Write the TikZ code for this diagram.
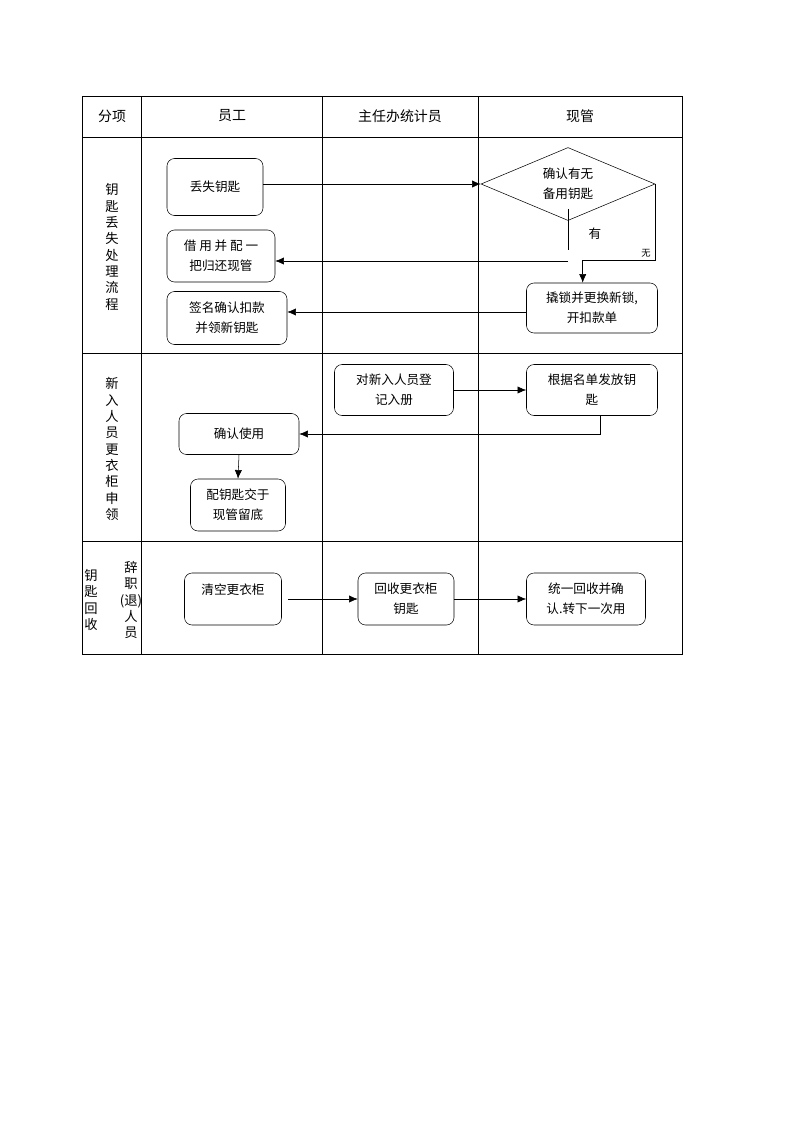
\documentclass[tikz,border=0pt]{standalone}
\usepackage{fontspec}
\setmainfont{Noto Sans CJK SC}
\usetikzlibrary{shapes.geometric,arrows.meta}

\begin{document}
\begin{tikzpicture}[x=0.2648mm, y=-0.2648mm, >={Latex[length=2.3mm,width=1.9mm]},
    box/.style 2 args={draw, rounded corners=2mm, inner sep=1pt, align=center,
        minimum width=#1*0.2648mm, minimum height=#2*0.2648mm,
        font=\fontsize{9.5}{15}\selectfont},
    head/.style={font=\fontsize{10.5}{12}\selectfont},
    lane/.style={align=center, inner sep=0pt, font=\fontsize{10}{12.3}\selectfont}]
    \useasboundingbox (0,0) rectangle (793,1122);
        % table
        \draw (82,96) rectangle (682,654);
        \draw (141,96) -- (141,654);
        \draw (322,96) -- (322,654);
        \draw (478,96) -- (478,654);
        \draw (82,137) -- (682,137);
        \draw (82,353) -- (682,353);
        \draw (82,541) -- (682,541);
        \node[head] (h0) at (112,116) {分项};
        \node[head] (h1) at (232,116) {员工};
        \node[head] (h2) at (400,116) {主任办统计员};
        \node[head] (h3) at (580,116) {现管};
        \node[lane] (r1) at (112,247) {钥\\匙\\丢\\失\\处\\理\\流\\程};
        \node[lane] (r2) at (112,449) {新\\入\\人\\员\\更\\衣\\柜\\申\\领};
        \node[lane] (r3a) at (91,600) {钥\\匙\\回\\收};
        \node[lane] (r3b) at (131,600) {辞\\职\\(退)\\人\\员};
        % lost key
        \node[box={96}{57}] (lost) at (215,187) {丢失钥匙};
        \node[draw, diamond, aspect=2.38, inner sep=0pt, align=center,
            minimum width=174*0.2648mm, minimum height=73*0.2648mm,
            font=\fontsize{9.5}{15}\selectfont] (judge) at (568,184) {确认有无\\备用钥匙};
        \node[box={108}{52}] (jieyong) at (221,256) {借 用 并 配 一\\把归还现管};
        \node[box={131}{50}] (qiaosuo) at (592,308) {撬锁并更换新锁,\\开扣款单};
        \node[box={120}{53}] (qianming) at (227,318) {签名确认扣款\\并领新钥匙};
        \draw[->] (lost.east |- judge.west) -- (judge.west);
        \draw (judge.south) ++(0,-12) -- ++(0,41) node[pos=0.6, right, xshift=12pt,
            font=\fontsize{9.5}{10}\selectfont] (you) {有};
        \coordinate (youend) at (568,261);
        \draw[->] (youend) -- (youend -| jieyong.east);
        \draw[->] (judge.east) -- ++(0,76) node[left, yshift=5pt,
            font=\fontsize{7}{8}\selectfont] (wu) {无} -| ([xshift=-7pt]qiaosuo.north);
        \draw[->] ([yshift=-3pt]qiaosuo.west) -- ([yshift=-3pt]qiaosuo.west -| qianming.east);
        % new staff
        \node[box={119}{51}] (dengji) at (394,390) {对新入人员登\\记入册};
        \node[box={131}{51}] (fafang) at (592,390) {根据名单发放钥\\匙};
        \node[box={120}{41}] (queren) at (239,434) {确认使用};
        \node[box={95}{52}] (pei) at (238,505) {配钥匙交于\\现管留底};
        \draw[->] (dengji.east) -- (fafang.west);
        \draw[->] ([xshift=6pt]fafang.south) |- (queren.east);
        \draw[->] (queren.south) -- (pei.north);
        % leaving staff
        \node[box={97}{52}] (qingkong) at (233,599) {清空更衣柜\\\mbox{}};
        \node[box={96}{52}] (huishou) at (406,599) {回收更衣柜\\钥匙};
        \node[box={119}{52}] (tongyi) at (586,599) {统一回收并确\\认.转下一次用};
        \draw[->] ([xshift=5pt]qingkong.east) -- (huishou.west);
        \draw[->] (huishou.east) -- (tongyi.west);
\end{tikzpicture}
\end{document}
